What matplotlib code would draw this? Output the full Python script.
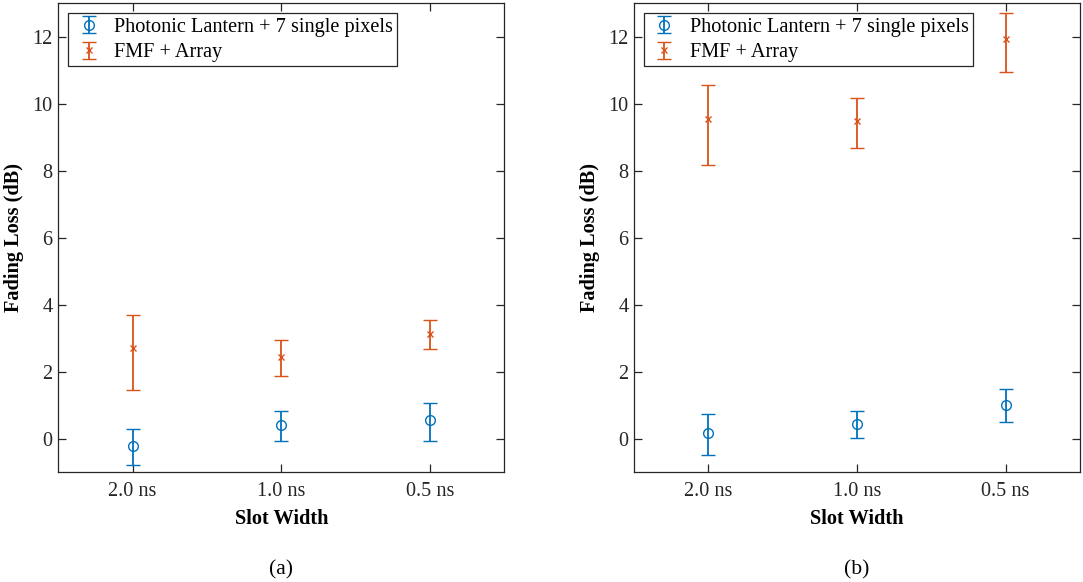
import matplotlib
matplotlib.use("Agg")
import matplotlib.pyplot as plt
from matplotlib.legend_handler import HandlerErrorbar
from matplotlib.container import ErrorbarContainer
import numpy as np

plt.rcParams['font.family'] = ['Liberation Serif', 'DejaVu Serif']

categories = ["2.0 ns", "1.0 ns", "0.5 ns"]
series_names = ["Photonic Lantern + 7 single pixels", "FMF + Array"]

# Panel (a)
a_pl_val = [-0.21, 0.41, 0.55]
a_pl_lo = [-0.78, -0.07, -0.06]
a_pl_hi = [0.28, 0.82, 1.06]
a_fmf_val = [2.70, 2.45, 3.13]
a_fmf_lo = [1.46, 1.87, 2.67]
a_fmf_hi = [3.69, 2.96, 3.55]

# Panel (b)
b_pl_val = [0.18, 0.45, 1.01]
b_pl_lo = [-0.47, 0.02, 0.50]
b_pl_hi = [0.75, 0.84, 1.49]
b_fmf_val = [9.54, 9.49, 11.93]
b_fmf_lo = [8.17, 8.68, 10.96]
b_fmf_hi = [10.57, 10.17, 12.71]

yticks = [0, 2, 4, 6, 8, 10, 12]

blue = '#0072BD'
orange = '#D95319'

fig = plt.figure(figsize=(10.83, 5.82), dpi=100)
ax_a = fig.add_axes([0.0538, 0.1885, 0.4118, 0.8058])
ax_b = fig.add_axes([0.5854, 0.1885, 0.4118, 0.8058])

panels = [
    (ax_a, a_pl_val, a_pl_lo, a_pl_hi, a_fmf_val, a_fmf_lo, a_fmf_hi, "(a)"),
    (ax_b, b_pl_val, b_pl_lo, b_pl_hi, b_fmf_val, b_fmf_lo, b_fmf_hi, "(b)"),
]

fs = 14.6
x = np.arange(1, len(categories) + 1)
for ax, pv, plo, phi, fv, flo, fhi, lab in panels:
    pv, plo, phi = map(np.array, (pv, plo, phi))
    fv, flo, fhi = map(np.array, (fv, flo, fhi))
    ax.errorbar(x, pv, yerr=[pv - plo, phi - pv], fmt='o', color=blue,
                mfc='none', ms=7, mew=1.0, elinewidth=1.3, capsize=5, capthick=1.3,
                label=series_names[0])
    ax.errorbar(x, fv, yerr=[fv - flo, fhi - fv], fmt='x', color=orange,
                ms=5, mew=1.0, elinewidth=1.3, capsize=5, capthick=1.3,
                label=series_names[1])
    ax.set_xlim(0.5, 3.5)
    ax.set_ylim(-1, 13)
    ax.set_xticks(x)
    ax.set_xticklabels(categories)
    ax.set_yticks(yticks)
    ax.tick_params(direction='in', length=6, width=0.9, labelsize=fs,
                   top=True, right=True, colors='#262626', labelcolor='#262626')
    ax.tick_params(axis='x', pad=7)
    ax.tick_params(axis='y', pad=4)
    for sp in ax.spines.values():
        sp.set_color('#262626')
        sp.set_linewidth(0.9)
    ax.set_xlabel("Slot Width", fontsize=fs, fontweight='bold', labelpad=6)
    ax.set_ylabel("Fading Loss (dB)", fontsize=fs, fontweight='bold', labelpad=6)
    leg = ax.legend(loc='upper left', fontsize=fs, frameon=True, fancybox=False,
                    edgecolor='#262626', framealpha=1, borderpad=0.2,
                    handletextpad=0.45, handlelength=1.6, labelspacing=0.32,
                    borderaxespad=0.5,
                    handler_map={ErrorbarContainer: HandlerErrorbar(yerr_size=0.42)})
    leg.get_frame().set_linewidth(0.9)
    ax.text(0.5, -0.207, lab, transform=ax.transAxes, ha='center', va='center',
            fontsize=fs + 1)

fig.savefig("out.png", dpi=100)
